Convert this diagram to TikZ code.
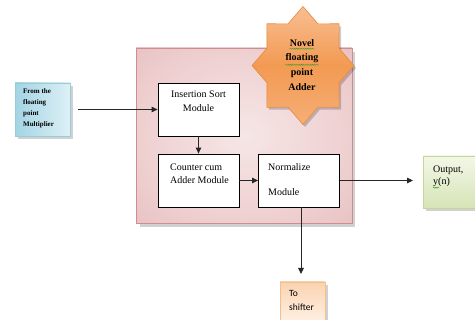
\documentclass[tikz,border=0pt]{standalone}
\usepackage{fontspec}
\setmainfont{Liberation Serif}
\newfontfamily\labelsans{Carlito}
\usetikzlibrary{arrows.meta,decorations.pathmorphing}

\definecolor{pinkin}{HTML}{F6E6E6}
\definecolor{pinkmid}{HTML}{EECFD0}
\definecolor{pinkout}{HTML}{D5979A}
\definecolor{pinkedge}{HTML}{CF8D90}
\definecolor{bluedark}{HTML}{A3D4E3}
\definecolor{bluelight}{HTML}{DDF0F6}
\definecolor{blueedge}{HTML}{9ACBDB}
\definecolor{greentop}{HTML}{F3F7E8}
\definecolor{greenbot}{HTML}{D6E4B6}
\definecolor{greenedge}{HTML}{C3D69B}
\definecolor{orangetop}{HTML}{FAD3B0}
\definecolor{orangebot}{HTML}{FFF4EA}
\definecolor{orangeedge}{HTML}{F4BF8E}
\definecolor{startop}{HTML}{F9BE92}
\definecolor{starmid}{HTML}{F29A52}
\definecolor{starbot}{HTML}{F6AE76}
\definecolor{staredge}{HTML}{E98A3E}
\definecolor{spellgreen}{HTML}{3C9A2A}

% radial shading for the enclosing frame, reaching the corners
\pgfdeclareradialshading{framefill}{\pgfpoint{0bp}{0bp}}{%
  color(0bp)=(pinkin); color(25bp)=(pinkmid); color(72bp)=(pinkout)}

\tikzset{
  frame/.style={draw=pinkedge, line width=0.6pt, shading=framefill,
    minimum width=216pt, minimum height=175pt, inner sep=0pt},
  module/.style={draw=black, line width=0.8pt, fill=white,
    minimum width=81pt, minimum height=53pt, inner sep=0pt},
  dropshadow/.style={fill=black, opacity=0.18},
  boxtext/.style={font=\fontsize{10}{13.5}\selectfont, inner sep=0pt},
  flow/.style={draw=black!85, line width=0.9pt,
    -{Triangle[length=6pt,width=5.5pt]}},
  spell/.style={draw=spellgreen, line width=0.4pt,
    decorate, decoration={snake, segment length=2.2pt, amplitude=0.6pt}},
}

\begin{document}
\begin{tikzpicture}[x=1pt,y=-1pt]
\useasboundingbox (0,0) rectangle (475,320);
\fill[white] (0,0) rectangle (475,320);

% enclosing frame of the adder
\fill[dropshadow] (140,52) rectangle (355,227);
\node[frame] (frame) at (244,135.5) {};

% the star badge
\fill[fill=black, opacity=0.2]
  plot[samples at={0,22.5,...,337.5}]
    ({305+(mod(\x,45)==0 ? 51 : 39)*cos(\x)},
     {68+(mod(\x,45)==0 ? 59 : 45.1)*sin(\x)}) -- cycle;
\path[draw=staredge, line width=0.6pt, top color=startop, bottom color=starbot,
      middle color=starmid]
  plot[samples at={0,22.5,...,337.5}]
    ({303+(mod(\x,45)==0 ? 51 : 39)*cos(\x)},
     {65.5+(mod(\x,45)==0 ? 59 : 45.1)*sin(\x)}) -- cycle;
\node[boxtext, font=\fontsize{10}{13}\selectfont\bfseries] (s1) at (302,43.5) {Novel};
\node[boxtext, font=\fontsize{10}{13}\selectfont\bfseries] (s2) at (302,58.5) {floating};
\node[boxtext, font=\fontsize{10}{13}\selectfont\bfseries] (s3) at (302,73) {point};
\node[boxtext, font=\fontsize{10}{13}\selectfont\bfseries] (s4) at (302,87.5) {Adder};
\draw[spell] ([yshift=-1.5pt]s1.south west) -- ([yshift=-1.5pt]s1.south east);
\draw[spell] ([yshift=-1.5pt]s2.south west) -- ([yshift=-1.5pt]s2.south east);

% the three modules
\node[module] (sort) at (198.5,109.5) {};
\node[module] (count) at (198.5,180.5) {};
\node[module] (norm) at (299,180.5) {};
\node[boxtext, align=center] (sortt) at (198.5,101) {Insertion Sort\\Module};
\node[boxtext, align=left] (countt) at (199.5,173.5) {Counter cum\\Adder Module};
\node[boxtext, align=left, anchor=west] (normt) at (268,179.5)
  {Normalize\\[11.5pt]Module};

% input box
\fill[dropshadow] (18,86) rectangle (73,139);
\node[draw=blueedge, line width=0.5pt, left color=bluedark, right color=bluelight,
      minimum width=55pt, minimum height=53pt, inner sep=0pt] (inbox) at (42.5,109.5) {};
\node[inner sep=0pt, align=left, anchor=north west,
      font=\fontsize{7}{11}\selectfont\bfseries] (intext) at (23,88)
  {From the\\floating\\point\\Multiplier};

% output box
\fill[dropshadow] (426,159) rectangle (480,211);
\node[draw=greenedge, line width=0.5pt, top color=greentop, bottom color=greenbot,
      minimum width=60pt, minimum height=52pt, inner sep=0pt] (outbox) at (453,182) {};
\node[boxtext, align=left, anchor=north west,
      font=\fontsize{10}{11.5}\selectfont] (outtext) at (433,166) {Output,\\y(n)};
\draw[spell] ([yshift=-1pt]outtext.south west) -- ++(6,0);

% shifter box
\fill[dropshadow] (283,285) rectangle (328,325);
\node[draw=orangeedge, line width=0.5pt, top color=orangetop, bottom color=orangebot,
      minimum width=45pt, minimum height=45pt, inner sep=0pt] (shbox) at (302.5,304.5) {};
\node[inner sep=0pt, align=left, anchor=north west,
      font=\labelsans\fontsize{9.5}{14}\selectfont] (shtext) at (289,290) {To\\shifter};

% data flow
\draw[flow, shorten <=8pt] (inbox.east |- sort.west) -- (sort.west);
\draw[flow] (sort) -- (count);
\draw[flow] (count) -- (norm);
\coordinate (outtip) at (413,180.5);
\draw[flow] (norm.east) -- (outtip);
\coordinate (shtip) at (301,274);
\draw[flow] (norm.south -| shtip) -- (shtip);
\end{tikzpicture}
\end{document}
